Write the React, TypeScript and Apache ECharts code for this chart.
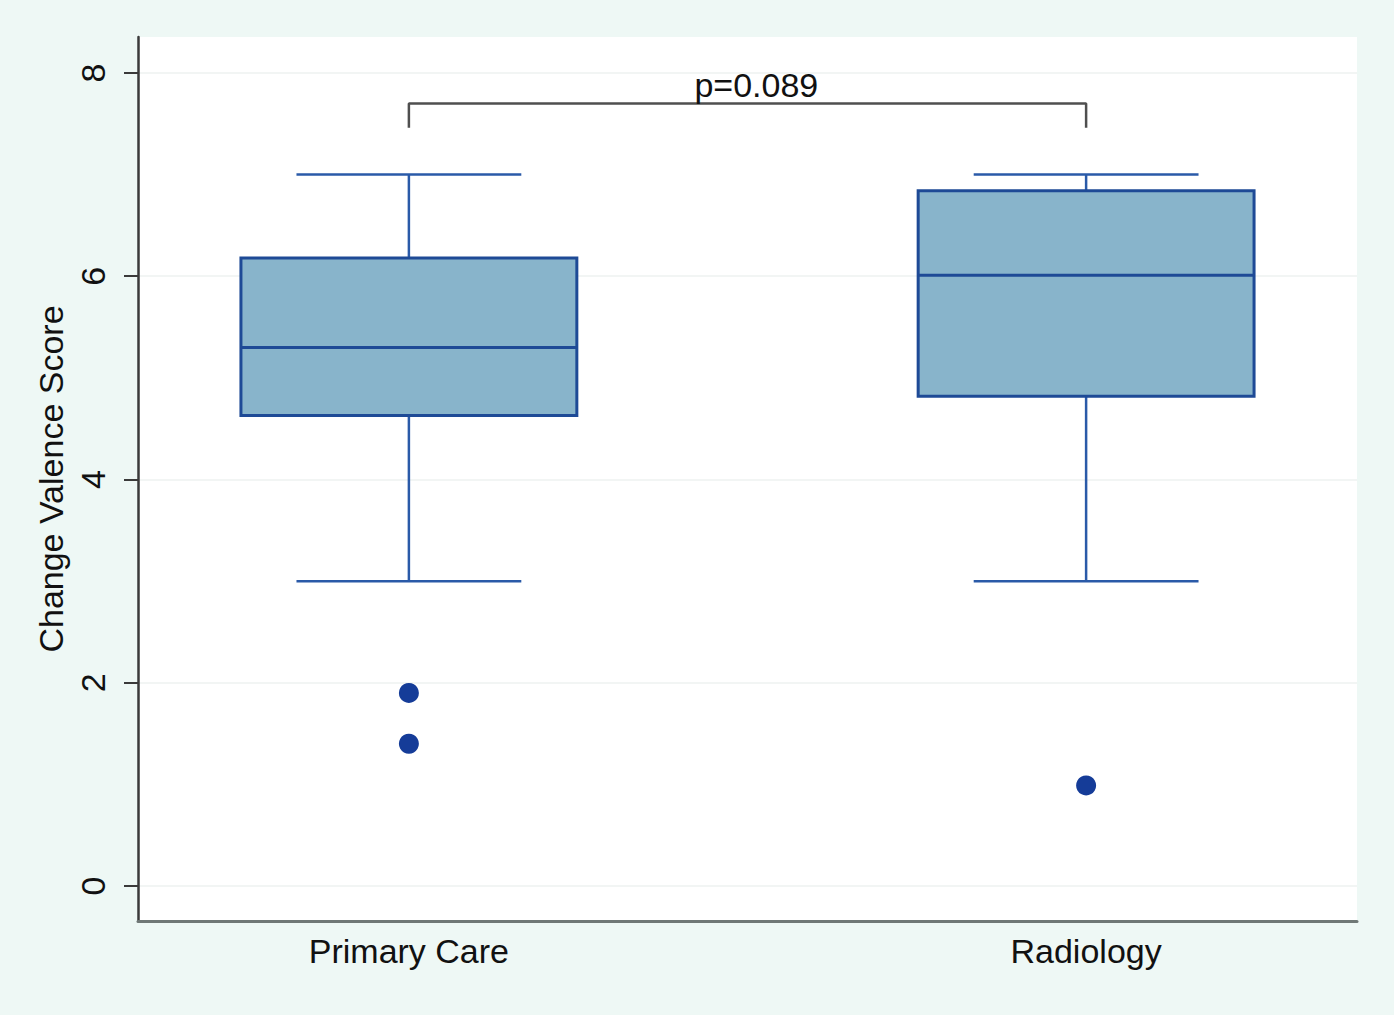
import React, { useEffect, useRef } from "react";
import * as echarts from "echarts";

const categories = ["Primary Care", "Radiology"];
const positions = [1, 2];
// [low whisker, Q1, median, Q3, high whisker]
const boxStats = [
  [3.0, 4.63, 5.3, 6.18, 7.0],
  [3.0, 4.82, 6.01, 6.84, 7.0],
];
const outliers = [
  [1, 1.9],
  [1, 1.4],
  [2, 0.99],
];
const yTicks = [0, 2, 4, 6, 8];
const bracket = [
  [1, 7.46],
  [1, 7.7],
  [2, 7.7],
  [2, 7.46],
];
const pLabel = "p=0.089";
const pLabelPos = [1.513, 7.7];

const FONT = "'Liberation Sans', Arial, Helvetica, sans-serif";

export default function App() {
  const ref = useRef<HTMLDivElement>(null);
  useEffect(() => {
    if (!ref.current) return;
    const chart = echarts.init(ref.current, null, { renderer: "svg" });
    const boxData = positions.map((p, i) => [p, ...boxStats[i]]);
    chart.setOption({
      animation: false,
      backgroundColor: "#EEF8F5",
      grid: {
        left: 138,
        right: 37,
        top: 37,
        bottom: 94,
        show: true,
        backgroundColor: "#ffffff",
        borderWidth: 0,
      },
      xAxis: {
        type: "value",
        min: 0.6,
        max: 2.4,
        axisLine: { show: true, onZero: false, lineStyle: { color: "#6f7876", width: 3 } },
        axisTick: { show: false },
        splitLine: { show: false },
        axisLabel: {
          customValues: positions,
          formatter: (v: number) => categories[positions.indexOf(v)] ?? "",
          color: "#111",
          fontSize: 34,
          fontFamily: FONT,
          margin: 13,
        },
      },
      yAxis: {
        type: "value",
        min: -0.344,
        max: 8.354,
        name: "Change Valence Score",
        nameLocation: "middle",
        nameRotate: 90,
        nameGap: 56,
        nameTextStyle: { color: "#111", fontSize: 34, fontFamily: FONT },
        axisLine: { show: true, onZero: false, lineStyle: { color: "#3a3a3a", width: 2.5 } },
        axisTick: {
          show: true,
          customValues: yTicks,
          length: 14,
          lineStyle: { color: "#3a3a3a", width: 2 },
        },
        axisLabel: {
          customValues: yTicks,
          rotate: 90,
          color: "#111",
          fontSize: 34,
          fontFamily: FONT,
          margin: 28,
        },
        splitLine: { show: true, lineStyle: { color: "#eef2f1", width: 1.5 } },
      },
      series: [
        {
          type: "custom",
          data: boxData,
          encode: { x: 0, y: [1, 2, 3, 4, 5] },
          renderItem: (params: any, api: any) => {
            const x = api.value(0);
            const lo = api.coord([x, api.value(1)]);
            const q1 = api.coord([x, api.value(2)]);
            const med = api.coord([x, api.value(3)]);
            const q3 = api.coord([x, api.value(4)]);
            const hi = api.coord([x, api.value(5)]);
            const bw = api.size([0.496, 0])[0];
            const cw = api.size([0.332, 0])[0];
            const cx = lo[0];
            const boxStroke = "#1e4a96";
            const whisk = "#2a5aa8";
            return {
              type: "group",
              children: [
                {
                  type: "line",
                  shape: { x1: cx, y1: hi[1], x2: cx, y2: q3[1] },
                  style: { stroke: whisk, lineWidth: 2.5 },
                },
                {
                  type: "line",
                  shape: { x1: cx, y1: lo[1], x2: cx, y2: q1[1] },
                  style: { stroke: whisk, lineWidth: 2.5 },
                },
                {
                  type: "line",
                  shape: { x1: cx - cw / 2, y1: hi[1], x2: cx + cw / 2, y2: hi[1] },
                  style: { stroke: whisk, lineWidth: 2.5 },
                },
                {
                  type: "line",
                  shape: { x1: cx - cw / 2, y1: lo[1], x2: cx + cw / 2, y2: lo[1] },
                  style: { stroke: whisk, lineWidth: 2.5 },
                },
                {
                  type: "rect",
                  shape: { x: cx - bw / 2, y: q3[1], width: bw, height: q1[1] - q3[1] },
                  style: { fill: "#88b4cb", stroke: boxStroke, lineWidth: 3 },
                },
                {
                  type: "line",
                  shape: { x1: cx - bw / 2, y1: med[1], x2: cx + bw / 2, y2: med[1] },
                  style: { stroke: boxStroke, lineWidth: 3 },
                },
              ],
            };
          },
          z: 3,
        },
        {
          type: "scatter",
          data: outliers,
          symbol: "circle",
          symbolSize: 20,
          itemStyle: { color: "#153c98", opacity: 1 },
          z: 4,
        },
        {
          type: "line",
          data: bracket,
          symbol: "none",
          lineStyle: { color: "#4f4f4f", width: 2.5 },
          z: 4,
        },
        {
          type: "scatter",
          data: [pLabelPos],
          symbolSize: 0,
          itemStyle: { opacity: 1 },
          label: {
            show: true,
            position: "top",
            distance: 1,
            formatter: pLabel,
            color: "#111111",
            opacity: 1,
            textBorderWidth: 0,
            fontSize: 34,
            fontFamily: FONT,
          },
          z: 5,
        },
      ],
    });
    return () => chart.dispose();
  }, []);
  return (
    <div
      ref={ref}
      style={{ position: "absolute", left: 0, top: 0, width: 1394, height: 1015 }}
    />
  );
}
